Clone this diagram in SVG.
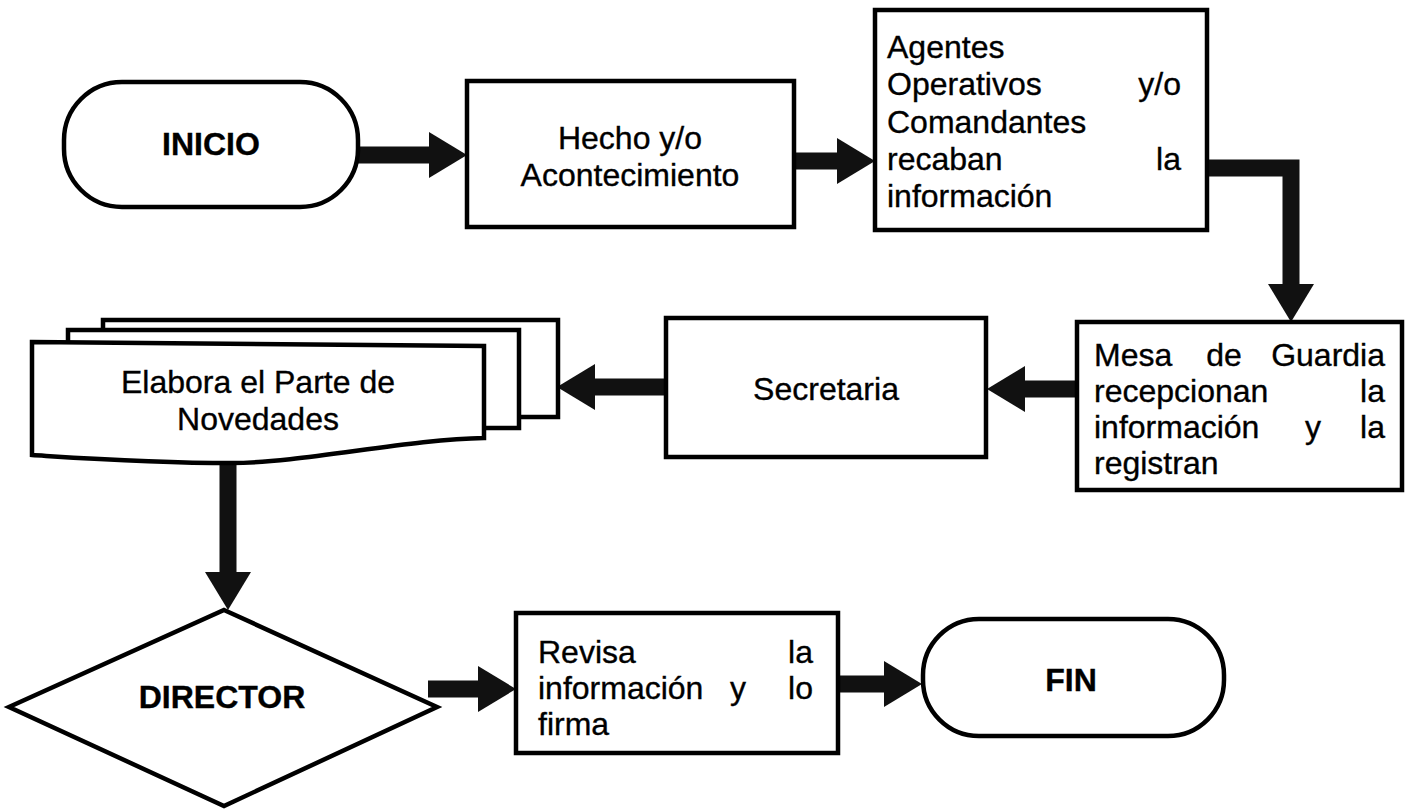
<svg xmlns="http://www.w3.org/2000/svg" width="1408" height="809" viewBox="0 0 1408 809">
<defs>
<style>
.box{fill:#fff;stroke:#000;stroke-width:4.5;stroke-linejoin:miter}
.t{font-family:"Liberation Sans",Arial,sans-serif;font-size:32px;fill:#000;stroke:#000;stroke-width:0.35}
.b{font-weight:bold}
.c{text-anchor:middle}
.e{text-anchor:end}
.cn{fill:none;stroke:#111;stroke-width:17;marker-end:url(#ah)}
</style>
<marker id="ah" markerUnits="userSpaceOnUse" markerWidth="40" markerHeight="48" refX="4" refY="23" orient="auto" viewBox="0 0 40 48">
<path d="M0,0 L38,23 L0,46 Z" fill="#111"/>
</marker>
</defs>
<rect width="1408" height="809" fill="#fff"/>
<g id="connectors">
<path class="cn" d="M358,155 H433"/>
<path class="cn" d="M794,161 H841"/>
<path class="cn" d="M1207,168 H1291 V288"/>
<path class="cn" d="M1077,389 H1021"/>
<path class="cn" d="M666,387 H591"/>
<path class="cn" d="M228,458 V576"/>
<path class="cn" d="M428,689 H482"/>
<path class="cn" d="M838,684 H888"/>
</g>
<g id="inicio">
<rect class="box" x="64" y="82" width="294" height="125" rx="58" ry="58"/>
<text class="t b c" x="211" y="155">INICIO</text>
</g>
<g id="hecho">
<rect class="box" x="467" y="81" width="327" height="146"/>
<text class="t c" x="630" y="149">Hecho y/o</text>
<text class="t c" x="630" y="186">Acontecimiento</text>
</g>
<g id="agentes">
<rect class="box" x="875" y="10" width="332" height="220"/>
<text class="t" x="887" y="58">Agentes</text>
<text class="t" x="887" y="95">Operativos</text>
<text class="t e" x="1181" y="95">y/o</text>
<text class="t" x="887" y="133">Comandantes</text>
<text class="t" x="887" y="170">recaban</text>
<text class="t e" x="1181" y="170">la</text>
<text class="t" x="887" y="207">información</text>
</g>
<g id="mesa">
<rect class="box" x="1077" y="322" width="325" height="168"/>
<text class="t" x="1094" y="366">Mesa</text>
<text class="t c" x="1224" y="366">de</text>
<text class="t e" x="1385" y="366">Guardia</text>
<text class="t" x="1094" y="402">recepcionan</text>
<text class="t e" x="1385" y="402">la</text>
<text class="t" x="1094" y="438">información</text>
<text class="t c" x="1313" y="438">y</text>
<text class="t e" x="1385" y="438">la</text>
<text class="t" x="1094" y="474">registran</text>
</g>
<g id="secretaria">
<rect class="box" x="666" y="318" width="320" height="139"/>
<text class="t c" x="826" y="400">Secretaria</text>
</g>
<g id="elabora">
<rect class="box" x="103" y="320" width="455" height="97"/>
<rect class="box" x="68" y="330" width="451" height="98"/>
<path class="box" d="M32,342 L484,346 L484,438 C410,439 300,463 232,463 C150,463 80,458 32,455 Z"/>
<text class="t c" x="258" y="393">Elabora el Parte de</text>
<text class="t c" x="258" y="430">Novedades</text>
</g>
<g id="director">
<polygon class="box" points="224,610 437,707 224,806 9,707"/>
<text class="t b c" x="222" y="708">DIRECTOR</text>
</g>
<g id="revisa">
<rect class="box" x="516" y="613" width="322" height="140"/>
<text class="t" x="538" y="663">Revisa</text>
<text class="t e" x="813" y="663">la</text>
<text class="t" x="538" y="699">información</text>
<text class="t c" x="738" y="699">y</text>
<text class="t e" x="813" y="699">lo</text>
<text class="t" x="538" y="735">firma</text>
</g>
<g id="fin">
<rect class="box" x="923" y="619" width="301" height="117" rx="56" ry="56"/>
<text class="t b c" x="1071" y="691">FIN</text>
</g>
</svg>
